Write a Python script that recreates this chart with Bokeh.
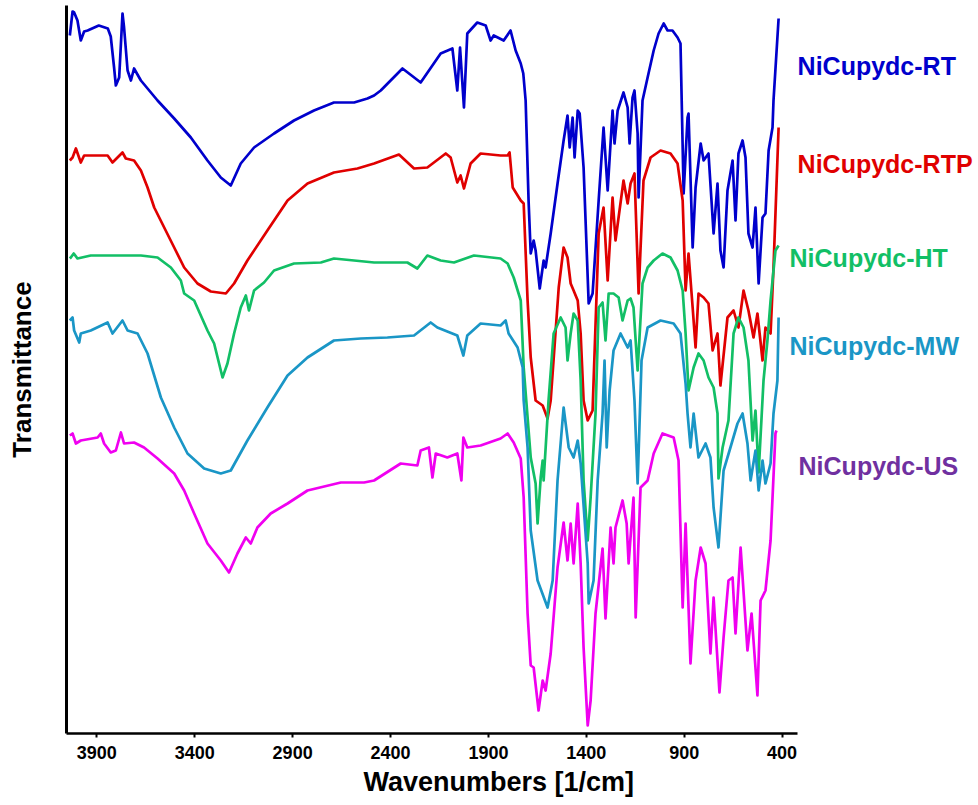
from bokeh.plotting import figure
from bokeh.models import Range1d, FixedTicker, Label, Title
from bokeh.embed import file_html
from bokeh.resources import INLINE

# FTIR spectra, wavenumber (cm^-1) vs transmittance (arbitrary units, stacked)
rt_wn = [4038, 4024, 4016, 3999, 3982, 3965, 3947, 3890, 3844, 3829,
         3812, 3803, 3786, 3769, 3761, 3743, 3726, 3710, 3675, 3590,
         3505, 3420, 3335, 3267, 3216, 3165, 3097, 2995, 2893, 2791,
         2689, 2586, 2518, 2484, 2450, 2339, 2246, 2144, 2084, 2059,
         2045, 2025, 2008, 1957, 1914, 1889, 1873, 1822, 1787, 1761,
         1735, 1722, 1710, 1695, 1684, 1669, 1659, 1638, 1618, 1608,
         1582, 1547, 1516, 1496, 1485, 1470, 1460, 1444, 1434, 1414,
         1388, 1368, 1337, 1312, 1291, 1266, 1256, 1240, 1210, 1189,
         1179, 1164, 1154, 1138, 1133, 1113, 1087, 1056, 1031, 1005,
         985, 960, 934, 919, 903, 883, 878, 857, 842, 816,
         801, 776, 750, 730, 715, 699, 679, 653, 638, 623,
         602, 587, 572, 551, 536, 520, 500, 485, 469, 449,
         444, 418]
rt_t = [698, 722, 721, 713, 693, 702, 703, 708, 705, 697,
        666, 648, 656, 720, 706, 663, 653, 665, 653, 633,
        615, 596, 573, 556, 548, 570, 586, 600, 613, 623,
        631, 631, 635, 638, 643, 665, 651, 680, 685, 643,
        686, 626, 700, 711, 708, 693, 698, 693, 703, 683,
        670, 660, 633, 533, 480, 493, 483, 445, 473, 466,
        500, 550, 593, 618, 586, 616, 576, 623, 620, 566,
        430, 440, 533, 606, 543, 623, 590, 623, 641, 626,
        590, 636, 643, 600, 536, 633, 656, 683, 700, 710,
        703, 703, 696, 690, 540, 616, 620, 486, 546, 590,
        573, 580, 500, 550, 483, 466, 543, 573, 513, 580,
        593, 576, 500, 486, 526, 450, 516, 520, 583, 606,
        633, 715]

rtp_wn = [4038, 4024, 4007, 3982, 3965, 3845, 3820, 3769, 3752, 3710,
          3675, 3641, 3607, 3556, 3505, 3454, 3386, 3318, 3241, 3199,
          3131, 3029, 2926, 2824, 2689, 2569, 2484, 2357, 2280, 2212,
          2118, 2093, 2059, 2042, 2025, 1991, 1940, 1838, 1802, 1792,
          1776, 1735, 1720, 1700, 1684, 1659, 1623, 1598, 1582, 1541,
          1516, 1496, 1480, 1465, 1444, 1429, 1414, 1393, 1368, 1337,
          1312, 1291, 1266, 1251, 1210, 1189, 1174, 1154, 1133, 1108,
          1072, 1021, 970, 934, 908, 893, 878, 857, 842, 827,
          801, 776, 755, 730, 715, 679, 648, 623, 597, 572,
          546, 526, 500, 485, 459, 444, 418]
rtp_t = [573, 576, 585, 571, 578, 578, 571, 581, 575, 573,
         563, 546, 526, 506, 486, 466, 450, 442, 440, 450,
         473, 503, 533, 550, 561, 565, 570, 579, 565, 566,
         580, 576, 551, 558, 545, 570, 580, 578, 578, 581,
         546, 533, 530, 433, 376, 333, 328, 315, 333, 446,
         486, 476, 450, 443, 433, 400, 333, 313, 323, 500,
         526, 453, 536, 493, 553, 530, 550, 560, 440, 553,
         576, 583, 580, 570, 533, 443, 480, 426, 386, 440,
         436, 430, 383, 400, 348, 416, 423, 406, 443, 423,
         396, 420, 373, 406, 400, 466, 606]

ht_wn = [4038, 4033, 4018, 3999, 3931, 3845, 3675, 3590, 3522, 3471,
         3454, 3403, 3335, 3301, 3258, 3233, 3199, 3165, 3139, 3123,
         3097, 3046, 2995, 2893, 2756, 2689, 2586, 2484, 2314, 2263,
         2212, 2144, 2076, 1974, 1838, 1802, 1771, 1735, 1720, 1684,
         1659, 1649, 1633, 1623, 1618, 1593, 1567, 1531, 1506, 1496,
         1480, 1465, 1444, 1429, 1414, 1393, 1378, 1353, 1337, 1317,
         1302, 1286, 1261, 1235, 1215, 1189, 1174, 1159, 1138, 1113,
         1087, 1056, 1011, 970, 934, 908, 893, 878, 852, 827,
         801, 776, 750, 730, 725, 704, 674, 648, 623, 597,
         572, 551, 536, 520, 495, 475, 459, 434, 418]
ht_t = [475, 476, 480, 475, 478, 478, 478, 476, 466, 453,
        440, 433, 403, 390, 356, 370, 400, 426, 438, 423,
        443, 451, 463, 470, 471, 475, 473, 471, 471, 465,
        478, 473, 471, 478, 475, 470, 456, 433, 366, 276,
        250, 210, 256, 273, 253, 333, 400, 416, 406, 373,
        400, 420, 413, 353, 253, 193, 236, 320, 426, 431,
        393, 440, 440, 436, 413, 433, 435, 426, 363, 450,
        466, 473, 480, 476, 463, 443, 400, 343, 366, 380,
        373, 356, 346, 320, 255, 286, 313, 400, 416, 406,
        373, 293, 323, 261, 353, 393, 433, 483, 488]

mw_wn = [4038, 4024, 4016, 3990, 3982, 3931, 3845, 3820, 3769, 3743,
         3692, 3641, 3573, 3505, 3437, 3352, 3267, 3216, 3131, 3029,
         2926, 2824, 2689, 2552, 2416, 2280, 2195, 2161, 2059, 2028,
         2008, 1940, 1838, 1812, 1797, 1751, 1725, 1720, 1700, 1684,
         1649, 1598, 1572, 1547, 1516, 1490, 1465, 1444, 1429, 1393,
         1388, 1363, 1342, 1317, 1307, 1296, 1281, 1261, 1225, 1189,
         1174, 1154, 1138, 1118, 1087, 1021, 954, 919, 893, 883,
         868, 852, 827, 791, 766, 750, 725, 699, 664, 628,
         602, 577, 561, 536, 520, 500, 485, 459, 444, 424,
         418]
mw_t = [413, 416, 403, 391, 400, 403, 411, 400, 413, 403,
        400, 380, 336, 306, 280, 265, 260, 263, 293, 326,
        358, 376, 393, 395, 396, 398, 411, 406, 398, 378,
        398, 410, 408, 413, 400, 386, 366, 333, 286, 203,
        153, 126, 153, 253, 326, 286, 276, 293, 270, 170,
        130, 153, 253, 320, 373, 286, 343, 383, 400, 386,
        393, 333, 250, 373, 406, 413, 410, 400, 350, 320,
        286, 320, 276, 290, 276, 226, 186, 263, 286, 310,
        320, 290, 253, 283, 243, 273, 250, 270, 320, 353,
        416]

us_wn = [4038, 4024, 4007, 3982, 3896, 3880, 3863, 3829, 3803, 3777,
         3761, 3710, 3659, 3590, 3505, 3454, 3403, 3335, 3267, 3225,
         3182, 3139, 3114, 3080, 3012, 2926, 2824, 2654, 2535, 2484,
         2348, 2263, 2246, 2204, 2186, 2169, 2110, 2059, 2038, 2028,
         2008, 1940, 1838, 1802, 1771, 1735, 1720, 1700, 1684, 1669,
         1644, 1623, 1608, 1582, 1547, 1516, 1496, 1480, 1465, 1444,
         1429, 1414, 1393, 1378, 1353, 1317, 1302, 1276, 1261, 1251,
         1215, 1194, 1184, 1159, 1148, 1123, 1087, 1056, 1011, 954,
         929, 908, 893, 868, 842, 816, 791, 766, 750, 720,
         699, 674, 653, 638, 612, 577, 556, 526, 510, 485,
         459, 434, 429]
us_t = [298, 300, 290, 293, 296, 300, 290, 281, 283, 301,
        290, 291, 286, 275, 260, 243, 220, 190, 173, 161,
        180, 196, 190, 206, 220, 230, 243, 251, 251, 253,
        270, 268, 283, 286, 256, 280, 276, 280, 253, 296,
        286, 288, 295, 300, 291, 275, 236, 120, 68, 66,
        23, 53, 43, 80, 166, 211, 173, 210, 170, 230,
        170, 86, 8, 33, 120, 185, 115, 206, 170, 206,
        233, 210, 170, 236, 116, 246, 253, 280, 300, 296,
        273, 126, 210, 70, 153, 186, 170, 80, 136, 41,
        96, 153, 156, 100, 186, 83, 120, 38, 133, 143,
        193, 300, 303]

x_ticks = [3900, 3400, 2900, 2400, 1900, 1400, 900, 400]

series = [
    ("NiCupydc-RT", rt_wn, rt_t, "#0000CC", "#0000CC"),
    ("NiCupydc-RTP", rtp_wn, rtp_t, "#E00000", "#E00000"),
    ("NiCupydc-HT", ht_wn, ht_t, "#12BF66", "#12BF66"),
    ("NiCupydc-MW", mw_wn, mw_t, "#1A96C6", "#1A96C6"),
    ("NiCupydc-US", us_wn, us_t, "#F000F0", "#7030A0"),
]

# label anchors (wavenumber of left edge, transmittance of centre line)
label_pos = {
    "NiCupydc-RT": (321, 668),
    "NiCupydc-RTP": (321, 570),
    "NiCupydc-HT": (362, 476),
    "NiCupydc-MW": (362, 388),
    "NiCupydc-US": (316, 268),
}

FONT = "Liberation Sans"

# the frame runs to the right edge so the curve names fit inside it;
# the x axis line itself stops at the end of the measured range
p = figure(width=978, height=805, output_backend="svg", toolbar_location=None,
           x_range=Range1d(4055, -603), y_range=Range1d(0, 728),
           min_border_left=66, min_border_right=0,
           min_border_top=5, min_border_bottom=72)
p.outline_line_color = None
p.xgrid.visible = False
p.ygrid.visible = False
p.background_fill_color = "white"
p.border_fill_color = "white"

for name, wn, t, line_col, text_col in series:
    p.line(wn, t, line_color=line_col, line_width=2.7, line_join="round")
    lx, ly = label_pos[name]
    p.add_layout(Label(x=lx, y=ly, text=name, text_color=text_col,
                       text_font=FONT, text_font_style="bold",
                       text_font_size="25px", text_baseline="middle",
                       text_align="left"))

# x axis
xa = p.xaxis[0]
xa.bounds = (323, 4055)
xa.ticker = FixedTicker(ticks=x_ticks)
xa.minor_tick_line_color = None
xa.major_tick_in = 0
xa.major_tick_out = 4
xa.major_tick_line_width = 2
xa.axis_line_width = 2.5
xa.axis_line_color = "black"
xa.major_tick_line_color = "black"
xa.major_label_text_font = FONT
xa.major_label_text_font_style = "bold"
xa.major_label_text_font_size = "18px"
xa.major_label_text_color = "black"
xa.major_label_standoff = 8

p.add_layout(Title(text="Wavenumbers [1/cm]", align="left", offset=297,
                   text_font=FONT, text_font_style="bold",
                   text_font_size="27px", text_color="black",
                   standoff=6), "below")

# y axis: line only, no ticks
ya = p.yaxis[0]
ya.ticker = FixedTicker(ticks=[])
ya.minor_tick_line_color = None
ya.major_tick_line_color = None
ya.axis_line_width = 3
ya.axis_line_color = "black"
ya.axis_label = "Transmittance"
ya.axis_label_text_font = FONT
ya.axis_label_text_font_style = "bold"
ya.axis_label_text_font_size = "26px"
ya.axis_label_text_color = "black"
ya.axis_label_standoff = 30

open("out.html", "w").write(file_html(p, INLINE))
